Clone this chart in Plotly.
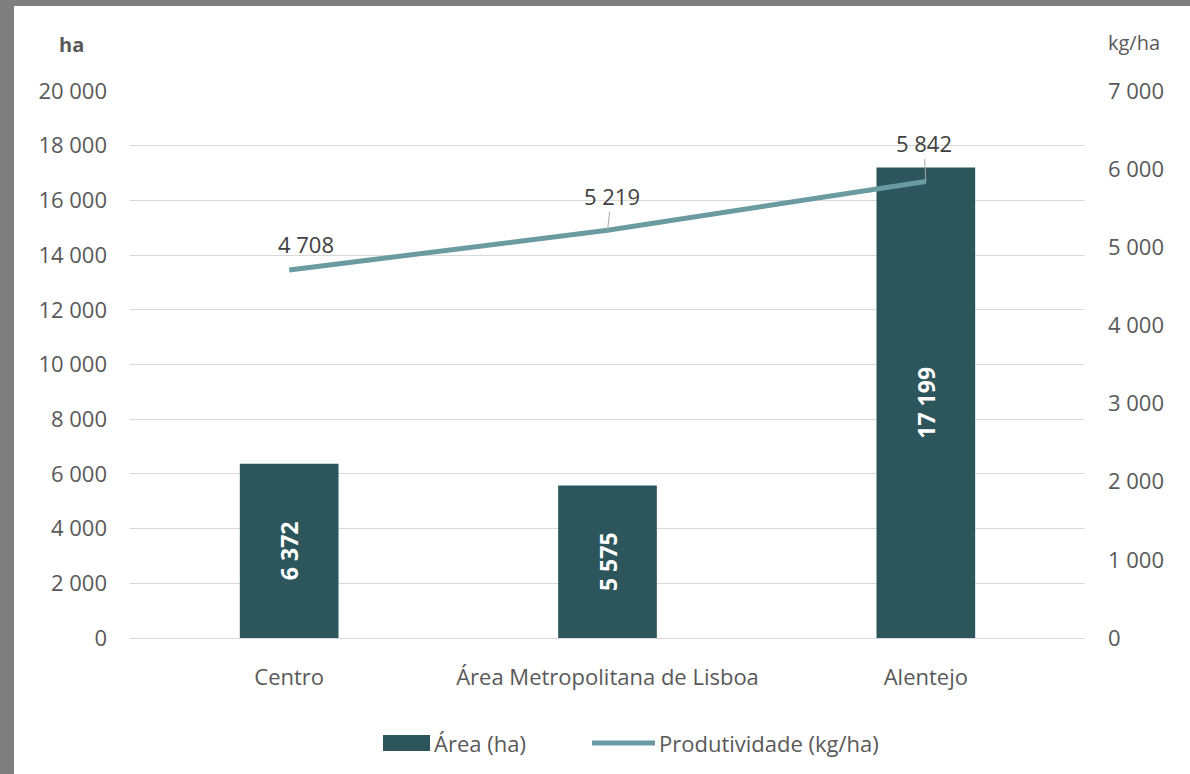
import plotly.graph_objects as go

categories = ["Centro", "Área Metropolitana de Lisboa", "Alentejo"]
area_ha = [6372, 5575, 17199]
produtividade = [4708, 5219, 5842]
label_dx = [17, 4, -2]
label_dy = [-26, -34, -38]
show_leader = [False, True, True]
series_names = ["Área (ha)", "Produtividade (kg/ha)"]

W, H = 1190, 774
ML, MR, MT, MB = 130, 105, 91, 136
PW, PH = W - ML - MR, H - MT - MB

FONT = "Open Sans"
TXT = "#595959"
BAR = "#2c565c"
LINE = "#6a9ba1"
GRID = "#d9d9d9"
BORDER = "#7f7f7f"

fig = go.Figure()
fig.add_trace(go.Bar(
    x=categories, y=area_ha, name=series_names[0],
    marker=dict(color=BAR, line=dict(width=0)),
    width=0.31,
    texttemplate="%{y:,.0f}", textposition="inside", insidetextanchor="middle",
    textangle=-90, textfont=dict(color="white", size=23, family=FONT, weight="bold"),
    cliponaxis=False, showlegend=False,
))
fig.add_trace(go.Scatter(
    x=categories, y=produtividade, name=series_names[1], yaxis="y2",
    mode="lines", line=dict(color=LINE, width=5), showlegend=False,
))

for c, v, dx, dy, sl in zip(categories, produtividade, label_dx, label_dy, show_leader):
    fig.add_annotation(
        x=c, y=v, xref="x", yref="y2", text=f"{v:,}".replace(",", " "),
        showarrow=True, arrowhead=0, arrowwidth=1,
        arrowcolor="#a6a6a6" if sl else "rgba(0,0,0,0)",
        ax=dx, ay=dy, standoff=0, borderpad=0,
        font=dict(family=FONT, size=22, color="#404040"),
    )

def px_x(p):
    return (p - ML) / PW

def px_y(p):
    return (H - MB - p) / PH

fig.add_annotation(x=px_x(71), y=px_y(45), xref="paper", yref="paper", text="<b>ha</b>",
                   xanchor="center", yanchor="middle",
                   showarrow=False, font=dict(family=FONT, size=20, color=TXT))
fig.add_annotation(x=px_x(1134), y=px_y(42), xref="paper", yref="paper", text="kg/ha",
                   xanchor="center", yanchor="middle",
                   showarrow=False, font=dict(family=FONT, size=20, color=TXT))

# custom legend
fig.add_shape(type="rect", xref="paper", yref="paper", x0=px_x(383), x1=px_x(430),
              y0=px_y(751), y1=px_y(735), fillcolor=BAR, line=dict(width=0))
fig.add_annotation(x=px_x(432), y=px_y(743), xref="paper", yref="paper", text=series_names[0],
                   xanchor="left", yanchor="middle", showarrow=False,
                   font=dict(family=FONT, size=22, color=TXT))
fig.add_shape(type="line", xref="paper", yref="paper", x0=px_x(592), x1=px_x(655),
              y0=px_y(743), y1=px_y(743), line=dict(color=LINE, width=5))
fig.add_annotation(x=px_x(657), y=px_y(743), xref="paper", yref="paper", text=series_names[1],
                   xanchor="left", yanchor="middle", showarrow=False,
                   font=dict(family=FONT, size=22, color=TXT))

# grey frame edges
fig.add_shape(type="rect", xref="paper", yref="paper", x0=px_x(0), x1=px_x(14),
              y0=px_y(H), y1=px_y(0), fillcolor=BORDER, line=dict(width=0), layer="above")
fig.add_shape(type="rect", xref="paper", yref="paper", x0=px_x(0), x1=px_x(W),
              y0=px_y(6), y1=px_y(0), fillcolor=BORDER, line=dict(width=0), layer="above")

fig.update_layout(
    width=W, height=H,
    margin=dict(l=ML, r=MR, t=MT, b=MB),
    paper_bgcolor="white", plot_bgcolor="white",
    separators=", ",
    font=dict(family=FONT, size=22, color=TXT),
    showlegend=False,
    xaxis=dict(showgrid=False, showline=True, linecolor=GRID, linewidth=1, ticks="",
               tickfont=dict(family=FONT, size=22, color=TXT), ticklabelstandoff=20),
    yaxis=dict(range=[0, 20000], dtick=2000, tickformat=",d", showgrid=True, gridcolor=GRID,
               gridwidth=1, zeroline=False, ticks="", showline=False,
               tickfont=dict(family=FONT, size=22, color=TXT), ticklabelstandoff=22),
    yaxis2=dict(range=[0, 7000], dtick=1000, tickformat=",d", overlaying="y", side="right",
                showgrid=False, zeroline=False, ticks="", showline=False,
                tickfont=dict(family=FONT, size=22, color=TXT), ticklabelstandoff=22),
    bargap=0.69,
)

fig.write_html("out.html")
